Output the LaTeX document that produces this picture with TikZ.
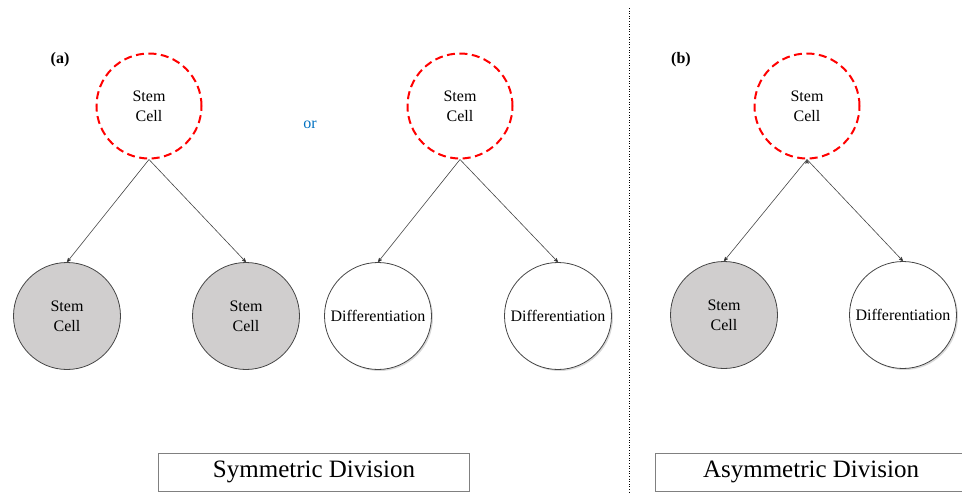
\documentclass[tikz,border=0pt]{standalone}
\usepackage{fontspec}
\setmainfont{Liberation Serif}
\usetikzlibrary{arrows,shadows}

\definecolor{cellgray}{RGB}{208,206,206}
\definecolor{orblue}{RGB}{0,112,192}
\definecolor{rimgray}{RGB}{70,70,70}

\begin{document}
\begin{tikzpicture}[x=1pt, y=-1pt, >=stealth', font=\fontsize{16}{20}\selectfont,
	mother/.style={circle, draw=red, dash pattern=on 8pt off 4.5pt, line width=2pt, minimum size=105pt, inner sep=0pt, align=center},
	stemcell/.style={circle, draw=rimgray, fill=cellgray, line width=0.8pt, minimum size=107pt, inner sep=0pt, align=center},
	diffcell/.style={stemcell, fill=white, drop shadow={opacity=0.3, shadow xshift=1.5pt, shadow yshift=-1.5pt}},
	divbox/.style={draw=gray, line width=1pt, minimum width=311pt, minimum height=38pt, font=\fontsize{25}{30}\selectfont},
	tag/.style={font=\fontsize{16}{20}\selectfont\bfseries}]
	\useasboundingbox (0,0) rectangle (962,493);

	% Symmetric division (a)
	\node [tag] 	(taga) at (60,60)   {(a)};
	\node [mother] 	(a0) at (149,106) {Stem\\Cell};
	\node [stemcell] (a1) at (67,316)  {Stem\\Cell};
	\node [stemcell] (a2) at (246,316) {Stem\\Cell};
	\node [text=orblue] (or) at (310,125) {or};
	\node [mother] 	(c0) at (460,106) {Stem\\Cell};
	\node [diffcell] (c1) at (378,316) {Differentiation};
	\node [diffcell] (c2) at (558,316) {Differentiation};
	\node [divbox] 	(sym) at (314,472) {Symmetric Division};

	% Separator
	\coordinate (septop) at (629,8);
	\coordinate (sepbot) at (629,493);
	\draw [dotted, line width=0.6pt] (septop) -- (sepbot);

	% Asymmetric division (b)
	\node [tag] 	(tagb) at (681,60)  {(b)};
	\node [mother] 	(b0) at (807,106) {Stem\\Cell};
	\node [stemcell] (b1) at (724,315) {Stem\\Cell};
	\node [diffcell] (b2) at (903,315) {Differentiation};
	\node [divbox] 	(asym) at (811,472) {Asymmetric Division};

	% Paths
	\path [->, draw=rimgray, line width=0.6pt]
				(a0.south) edge (a1.north)
				(a0.south) edge (a2.north)
				(c0.south) edge (c1.north)
				(c0.south) edge (c2.north)
				(b0.south) edge (b1.north)
				(b0.south) edge (b2.north);
\end{tikzpicture}
\end{document}
